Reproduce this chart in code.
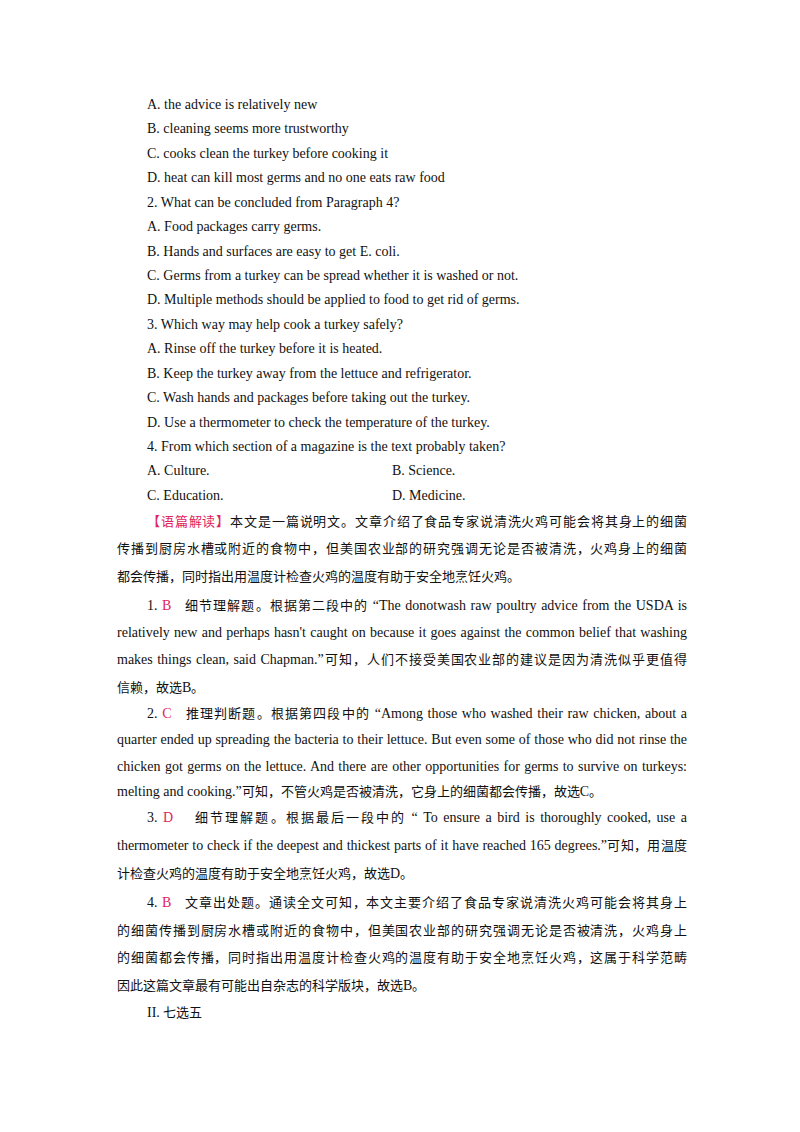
<!DOCTYPE html>
<html><head><meta charset="utf-8">
<script src="https://cdn.jsdelivr.net/npm/chart.js@4"></script>
<style>
@font-face{font-family:cjk;src:local("Noto Sans CJK SC");size-adjust:93%;unicode-range:U+2000-206F,U+3000-9FFF,U+FF00-FFEF}
body{margin:0;width:800px;height:1132px;background:#fff;position:relative;font-family:"Liberation Serif",cjk,"Noto Sans CJK SC",serif;font-size:14px;color:#111}
.l{position:absolute;line-height:20px;white-space:nowrap}
.j{text-align:justify;text-align-last:justify;white-space:normal;height:20px}
.r{color:#e0245e}
</style></head><body>
<div id="page"></div>
<script>
// [y, x, text, justify]
const lines = [
 [105,147,'A. the advice is relatively new'],
 [129,147,'B. cleaning seems more trustworthy'],
 [154,147,'C. cooks clean the turkey before cooking it'],
 [178,147,'D. heat can kill most germs and no one eats raw food'],
 [203,147,'2. What can be concluded from Paragraph 4?'],
 [227,147,'A. Food packages carry germs.'],
 [252,147,'B. Hands and surfaces are easy to get E. coli.'],
 [276,147,'C. Germs from a turkey can be spread whether it is washed or not.'],
 [300,147,'D. Multiple methods should be applied to food to get rid of germs.'],
 [325,147,'3. Which way may help cook a turkey safely?'],
 [349,147,'A. Rinse off the turkey before it is heated.'],
 [374,147,'B. Keep the turkey away from the lettuce and refrigerator.'],
 [398,147,'C. Wash hands and packages before taking out the turkey.'],
 [423,147,'D. Use a thermometer to check the temperature of the turkey.'],
 [447,147,'4. From which section of a magazine is the text probably taken?'],
 [471,147,'A. Culture.'],[471,392,'B. Science.'],
 [496,147,'C. Education.'],[496,392,'D. Medicine.'],
 [522,147,'<span class="r">【语篇解读】</span>本文是一篇说明文。文章介绍了食品专家说清洗火鸡可能会将其身上的细菌',1],
 [549,117,'传播到厨房水槽或附近的食物中，但美国农业部的研究强调无论是否被清洗，火鸡身上的细菌',1],
 [577,117,'都会传播，同时指出用温度计检查火鸡的温度有助于安全地烹饪火鸡。'],
 [606,147,'1. <span class="r">B</span>&nbsp;&nbsp;&nbsp;细节理解题。根据第二段中的 “The donotwash raw poultry advice from the USDA is',1],
 [633,117,'relatively new and perhaps hasn\'t caught on because it goes against the common belief that washing',1],
 [660,117,'makes things clean, said Chapman.”可知，人们不接受美国农业部的建议是因为清洗似乎更值得',1],
 [688,117,'信赖，故选B。'],
 [714,147,'2. <span class="r">C</span>&nbsp;&nbsp;&nbsp;推理判断题。根据第四段中的 “Among those who washed their raw chicken, about a',1],
 [740,117,'quarter ended up spreading the bacteria to their lettuce. But even some of those who did not rinse the',1],
 [767,117,'chicken got germs on the lettuce. And there are other opportunities for germs to survive on turkeys:',1],
 [792,117,'melting and cooking.”可知，不管火鸡是否被清洗，它身上的细菌都会传播，故选C。'],
 [818,147,'3. <span class="r">D</span>&nbsp;&nbsp;&nbsp;&nbsp;细节理解题。根据最后一段中的 “ To ensure a bird is thoroughly cooked, use a',1],
 [846,117,'thermometer to check if the deepest and thickest parts of it have reached 165 degrees.”可知，用温度',1],
 [874,117,'计检查火鸡的温度有助于安全地烹饪火鸡，故选D。'],
 [903,147,'4. <span class="r">B</span>&nbsp;&nbsp;&nbsp;文章出处题。通读全文可知，本文主要介绍了食品专家说清洗火鸡可能会将其身上',1],
 [931,117,'的细菌传播到厨房水槽或附近的食物中，但美国农业部的研究强调无论是否被清洗，火鸡身上',1],
 [958,117,'的细菌都会传播，同时指出用温度计检查火鸡的温度有助于安全地烹饪火鸡，这属于科学范畴',1],
 [986,117,'因此这篇文章最有可能出自杂志的科学版块，故选B。'],
 [1013,147,'II. 七选五']
];
const page = document.getElementById('page');
lines.forEach(([y, x, t, j]) => {
  const d = document.createElement('div');
  d.className = 'l' + (j ? ' j' : '');
  d.style.top = (y - 10) + 'px';
  d.style.left = x + 'px';
  if (j) d.style.width = (687 - x) + 'px';
  d.innerHTML = t;
  page.appendChild(d);
});
</script>
</body></html>
